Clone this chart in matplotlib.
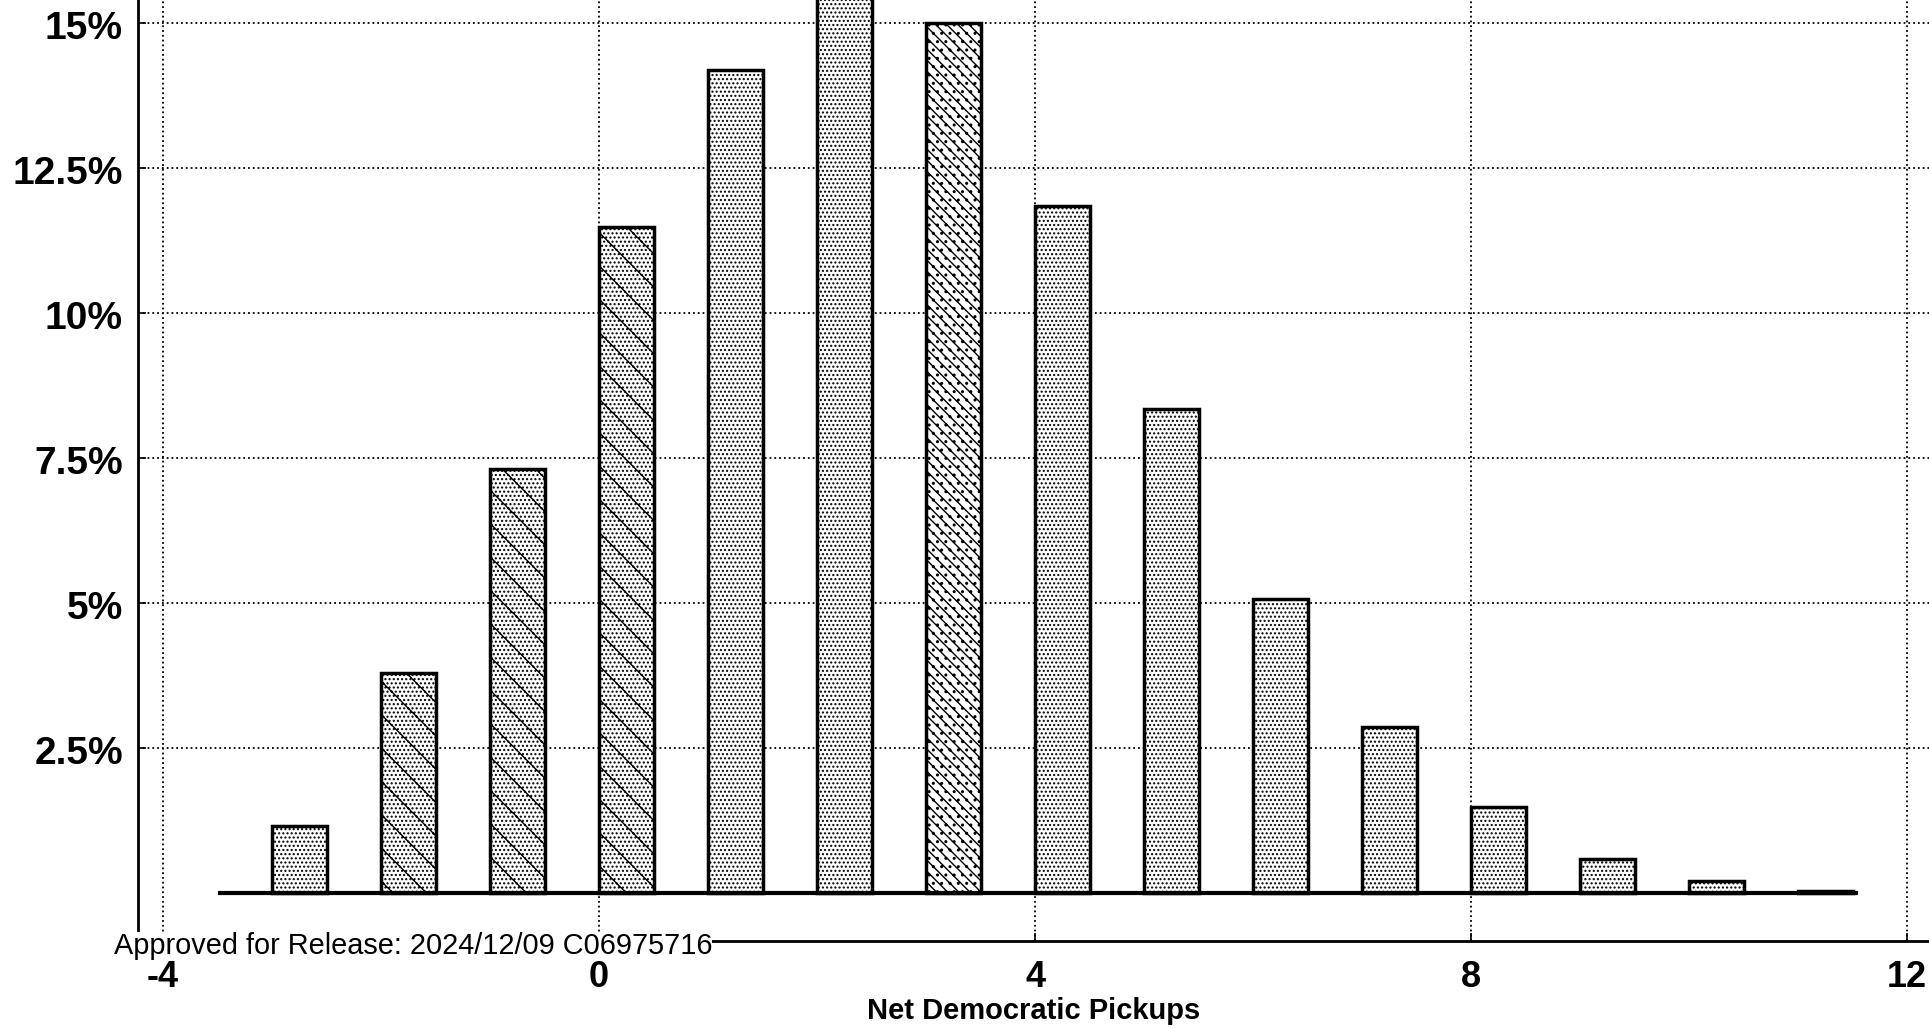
import matplotlib.pyplot as plt
import numpy as np

# Rozklad prawdopodobienstwa: zysk mandatow demokratow
pickups = list(range(-3, 12))
share = [1.16, 3.79, 7.31, 11.49, 14.19, 16.6, 15.0, 11.85, 8.35, 5.07, 2.86, 1.48, 0.59, 0.21, 0.04]

xticks = [-4, 0, 4, 8, 12]
xtick_labels = ['-4', '0', '4', '8', '12']
yticks = [2.5, 5, 7.5, 10, 12.5, 15]
ytick_labels = ['2.5%', '5%', '7.5%', '10%', '12.5%', '15%']

# wzory wypelnienia slupkow (skan: kropki, czasem ukosne)
hatches = ['....', '\\....', '\\....', '\\....', '....', '....', '\\\\\\..',
           '....', '....', '....', '....', '....', '....', '....', '....']

plt.rcParams['font.family'] = ['Liberation Sans', 'DejaVu Sans']
plt.rcParams['hatch.linewidth'] = 1.0

fig = plt.figure(figsize=(19.29, 10.28), dpi=100)
ax = fig.add_axes([0.0715, 0.0846, 0.9285, 0.9154])

ax.set_axisbelow(True)
ax.grid(True, linestyle=':', color='black', linewidth=1.3)

for x, h, ht in zip(pickups, share, hatches):
    ax.bar(x, h, width=0.5, align='edge', facecolor='white',
           edgecolor='black', hatch=ht, linewidth=2.5)

# linia bazowa
ax.hlines(0, -3.5, 11.55, color='black', linewidth=3)

ax.set_xlim(-4.23, 12.2)
ax.set_ylim(-0.83, 15.4)
ax.set_xticks(xticks)
ax.set_xticklabels(xtick_labels, fontsize=26, fontweight='bold')
ax.set_yticks(yticks)
ax.set_yticklabels([])
# etykiety osi y lekko ponizej linii siatki, jak na skanie
for y, lab in zip(yticks, ytick_labels):
    ax.text(-0.0084, y - 0.1, lab, transform=ax.get_yaxis_transform(),
            ha='right', va='center', fontsize=28, fontweight='bold', clip_on=False)
ax.tick_params(axis='both', direction='in', length=6, width=1.2)
ax.tick_params(axis='x', pad=14)

for s in ['top', 'right']:
    ax.spines[s].set_visible(False)
for s in ['left', 'bottom']:
    ax.spines[s].set_linewidth(2)

ax.set_xlabel('Net Democratic Pickups', fontsize=21, fontweight='bold', labelpad=1)

fig.text(0.059, 0.080, 'Approved for Release: 2024/12/09 C06975716', fontsize=20.8,
         ha='left', va='center', bbox=dict(facecolor='white', edgecolor='none', pad=0))

fig.savefig('out.png', dpi=100)
